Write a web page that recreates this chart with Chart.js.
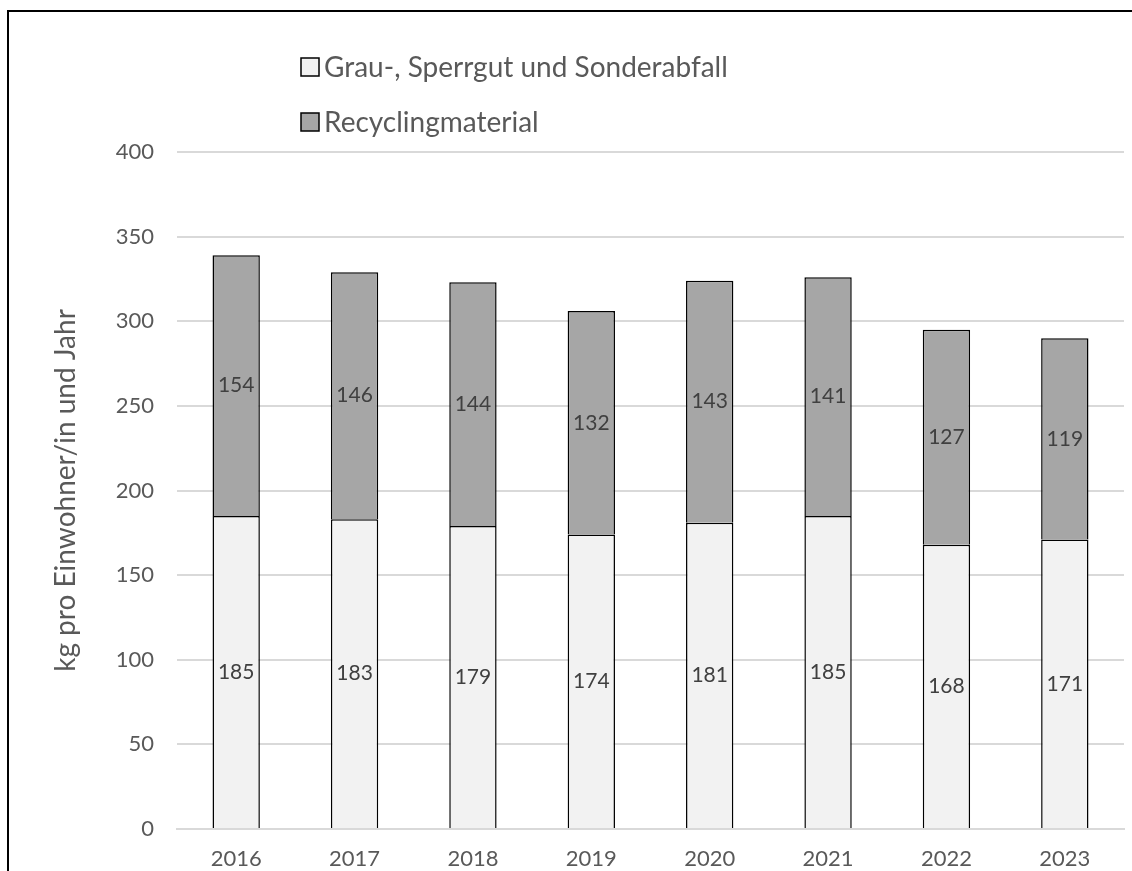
<!DOCTYPE html>
<html>
<head>
<meta charset="utf-8">
<script src="https://cdn.jsdelivr.net/npm/chart.js@4/dist/chart.umd.min.js"></script>
<style>
  html, body { margin: 0; padding: 0; background: #fff; }
  #wrap { width: 1132px; height: 871px; position: relative; }
</style>
</head>
<body>
<div id="wrap"><canvas id="Abfall" width="1132" height="871"></canvas></div>
<script>
const Jahre = ["2016", "2017", "2018", "2019", "2020", "2021", "2022", "2023"];
const GrauSperrgut = [185, 183, 179, 174, 181, 185, 168, 171];
const Recycling = [154, 146, 144, 132, 143, 141, 127, 119];
const YTicks = [0, 50, 100, 150, 200, 250, 300, 350, 400];

const FONT = "Lato, 'Open Sans', sans-serif";
const GREY_TEXT = "#595959";

// frame round the whole picture (right and bottom edge run off the canvas)
const framePlugin = {
  id: "frame",
  beforeDraw(chart) {
    const c = chart.ctx;
    c.save();
    c.fillStyle = "#fff";
    c.fillRect(0, 0, chart.width, chart.height);
    c.strokeStyle = "#000";
    c.lineWidth = 2;
    c.strokeRect(8, 11, chart.width + 20, chart.height + 20);
    c.restore();
  }
};

// numbers in the middle of every segment
const labelPlugin = {
  id: "segLabels",
  afterDatasetsDraw(chart) {
    const c = chart.ctx;
    c.save();
    c.font = "21px " + FONT;
    c.fillStyle = "#404040";
    c.textAlign = "center";
    c.textBaseline = "middle";
    chart.data.datasets.forEach((ds, i) => {
      chart.getDatasetMeta(i).data.forEach((bar, j) => {
        const mid = (bar.y + bar.base) / 2;
        c.fillText(ds.data[j], bar.x, mid);
      });
    });
    c.restore();
  }
};

// legend as a vertical list above the plot
const legendPlugin = {
  id: "vLegend",
  afterDraw(chart) {
    const c = chart.ctx;
    c.save();
    c.font = "28px " + FONT;
    c.textBaseline = "middle";
    chart.data.datasets.forEach((ds, i) => {
      const y = 67 + i * 55;
      c.fillStyle = ds.backgroundColor;
      c.fillRect(301, y - 9, 18, 18);
      c.strokeStyle = "#000";
      c.lineWidth = 1.5;
      c.strokeRect(301, y - 9, 18, 18);
      c.fillStyle = GREY_TEXT;
      c.fillText(ds.label, 324, y + 1);
    });
    c.restore();
  }
};

const ctx = document.getElementById("Abfall").getContext("2d");
const Abfall = new Chart(ctx, {
  type: "bar",
  data: {
    labels: Jahre,
    datasets: [
      {
        label: "Grau-, Sperrgut und Sonderabfall",
        data: GrauSperrgut,
        backgroundColor: "#f2f2f2",
        borderColor: "#000",
        borderWidth: 1.5
      },
      {
        label: "Recyclingmaterial",
        data: Recycling,
        backgroundColor: "#a6a6a6",
        borderColor: "#000",
        borderWidth: 1.5
      }
    ]
  },
  options: {
    responsive: false,
    animation: false,
    layout: { padding: { left: 0, right: 8, top: 152, bottom: 0 } },
    barPercentage: 0.4,
    categoryPercentage: 1,
    plugins: {
      legend: { display: false },
      tooltip: { enabled: false }
    },
    scales: {
      x: {
        stacked: true,
        grid: { display: false },
        border: { color: "#d9d9d9", width: 2 },
        ticks: { color: GREY_TEXT, font: { family: FONT, size: 22 }, padding: 9 },
        afterFit: s => { s.height = 42; }
      },
      y: {
        stacked: true,
        min: 0,
        max: 400,
        afterBuildTicks: s => { s.ticks = YTicks.map(v => ({ value: v })); },
        grid: { color: "#d9d9d9", lineWidth: 2, drawTicks: false },
        border: { display: false },
        ticks: { color: GREY_TEXT, font: { family: FONT, size: 22 }, padding: 23 },
        title: {
          display: true,
          text: "kg pro Einwohner/in und Jahr",
          color: GREY_TEXT,
          font: { family: FONT, size: 28 },
          padding: { top: 49, bottom: 0 }
        },
        afterFit: s => { s.width = 177; }
      }
    }
  },
  plugins: [framePlugin, labelPlugin, legendPlugin]
});
</script>
</body>
</html>
